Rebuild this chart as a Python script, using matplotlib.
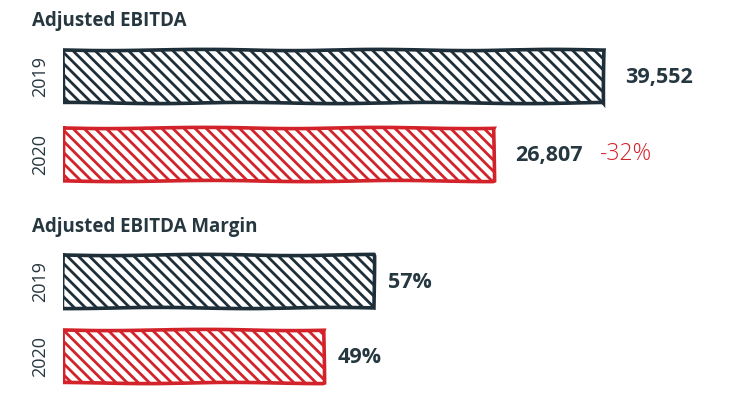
import numpy as np
import matplotlib.pyplot as plt

years = ["2019", "2020"]
ebitda = [39552, 26807]
ebitda_labels = ["39,552", "26,807"]
change_label = "-32%"
margin = [57, 49]
margin_labels = ["57%", "49%"]

dark = "#1e2f3a"
red = "#d2232a"
text_col = "#263740"
colors = [dark, red]

plt.rcParams["hatch.linewidth"] = 2.0
plt.rcParams["font.family"] = ["Open Sans", "DejaVu Sans"]

W, H = 734, 393
fig = plt.figure(figsize=(W / 100, H / 100), dpi=100)

X0 = 63  # left edge of the bars in pixels


def panel(top_px, step_px, base, vmax, end_px, values, labels, pad):
    # one axes per panel, y units = one bar slot
    bottom = 1 - (top_px + 2 * step_px) / H
    ax = fig.add_axes([X0 / W, bottom, 1 - X0 / W, 2 * step_px / H])
    per_px = (vmax - base) / (end_px - X0)
    ax.set_xlim(base, base + (W - X0) * per_px)
    ax.set_ylim(1.5, -0.5)
    bars = ax.barh(range(len(values)), np.array(values) - base, left=base,
                   height=53 / step_px, color="white", edgecolor=colors,
                   linewidth=2.6, hatch="\\\\\\")
    for b in bars:
        b.set_sketch_params(scale=0.6, length=200, randomness=2)
    for i, (v, lab) in enumerate(zip(values, labels)):
        ax.annotate(lab, (v, i), xytext=(pad, -1), textcoords="offset points",
                    va="center", ha="left", fontsize=15.5, fontweight="bold",
                    color=text_col)
    ax.set_yticks(range(len(years)))
    ax.set_yticklabels(years, rotation=90, va="center", fontsize=13,
                       color=text_col)
    ax.tick_params(axis="y", length=0, pad=10)
    ax.set_xticks([])
    for s in ax.spines.values():
        s.set_visible(False)
    ax.patch.set_alpha(0)
    return ax


ax1 = panel(37.5, 78, -23130, ebitda[0], 604, ebitda, ebitda_labels, 15)
ax1.annotate(change_label, (ebitda[1], 1), xytext=(76, 0),
             textcoords="offset points", va="center", ha="left", fontsize=16.5,
             fontweight="light", color=red)

ax2 = panel(244, 75, 7.2, margin[0], 374, margin, margin_labels, 10)

fig.text(32 / W, 1 - 21 / H, "Adjusted EBITDA", fontsize=13.5,
         fontweight="bold", color=text_col, va="center")
fig.text(32 / W, 1 - 227 / H, "Adjusted EBITDA Margin", fontsize=13.5,
         fontweight="bold", color=text_col, va="center")

fig.savefig("out.png", dpi=100, facecolor="white")
